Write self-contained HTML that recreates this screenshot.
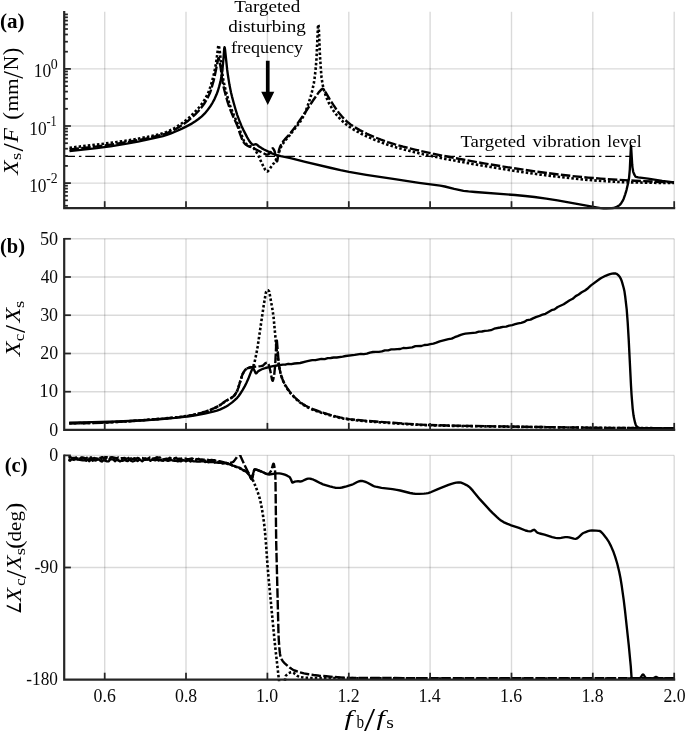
<!DOCTYPE html>
<html lang="en"><head><meta charset="utf-8"><title>Frequency response</title>
<style>html,body{margin:0;padding:0;background:#fff}svg{display:block}</style></head>
<body>
<svg width="685" height="731" viewBox="0 0 685 731">
<rect width="685" height="731" fill="#fff"/>
<g stroke="#262626" stroke-opacity="0.17" stroke-width="1.4" fill="none">
<path d="M104.7 11.8V208.2"/>
<path d="M186.0 11.8V208.2"/>
<path d="M267.4 11.8V208.2"/>
<path d="M348.8 11.8V208.2"/>
<path d="M430.1 11.8V208.2"/>
<path d="M511.5 11.8V208.2"/>
<path d="M592.8 11.8V208.2"/>
<path d="M674.2 11.8V208.2"/>
<path d="M64.0 68.9H674.2"/>
<path d="M64.0 126.0H674.2"/>
<path d="M64.0 183.1H674.2"/>
<path d="M104.7 238.8V429.9"/>
<path d="M186.0 238.8V429.9"/>
<path d="M267.4 238.8V429.9"/>
<path d="M348.8 238.8V429.9"/>
<path d="M430.1 238.8V429.9"/>
<path d="M511.5 238.8V429.9"/>
<path d="M592.8 238.8V429.9"/>
<path d="M674.2 238.8V429.9"/>
<path d="M64.0 238.8H674.2"/>
<path d="M64.0 277.0H674.2"/>
<path d="M64.0 315.2H674.2"/>
<path d="M64.0 353.5H674.2"/>
<path d="M64.0 391.7H674.2"/>
<path d="M104.7 455.4V679.7"/>
<path d="M186.0 455.4V679.7"/>
<path d="M267.4 455.4V679.7"/>
<path d="M348.8 455.4V679.7"/>
<path d="M430.1 455.4V679.7"/>
<path d="M511.5 455.4V679.7"/>
<path d="M592.8 455.4V679.7"/>
<path d="M674.2 455.4V679.7"/>
<path d="M64.0 455.4H674.2"/>
<path d="M64.0 567.5H674.2"/>
</g>
<g fill="none" stroke="#000" stroke-linejoin="round">
<clipPath id="clipa"><rect x="64.0" y="11.3" width="612.2" height="198.4"/></clipPath>
<clipPath id="clipb"><rect x="64.0" y="238.3" width="612.2" height="193.1"/></clipPath>
<clipPath id="clipc"><rect x="64.0" y="454.9" width="612.2" height="226.3"/></clipPath>
<path clip-path="url(#clipa)" stroke-width="2.35" d="M69.5 151.2L96.8 148.2L104.2 147.2L110.5 146.3L126.8 143.6L138.0 141.6L147.2 139.7L158.5 137.2L163.0 136.1L166.8 134.9L171.0 133.3L176.8 131.0L182.0 128.6L188.0 125.6L191.8 123.6L195.0 121.5L198.5 119.0L201.8 116.3L204.8 113.4L207.2 110.6L210.0 106.8L212.5 102.8L214.5 99.1L216.5 94.6L218.0 90.5L219.2 86.4L220.5 81.4L221.5 76.2L222.5 69.1L223.5 58.5L224.2 48.5L224.5 47.2L224.8 47.8L225.0 49.2L227.2 69.9L228.0 75.8L229.5 85.1L231.0 92.4L232.0 96.6L233.5 102.2L235.5 109.2L237.2 114.8L238.5 118.4L240.0 122.3L241.5 125.9L243.2 129.6L247.2 137.4L249.0 140.5L250.5 142.7L252.2 144.4L252.8 144.7L253.2 144.8L255.8 144.2L256.5 144.3L257.2 144.9L259.0 146.5L261.5 148.1L264.0 149.5L272.0 153.4L274.8 154.5L277.0 155.3L280.8 156.2L288.2 157.6L291.5 158.3L305.2 161.8L331.2 168.0L340.5 170.1L349.0 171.8L366.2 174.8L394.8 179.2L419.0 182.8L440.2 185.6L444.8 186.5L454.2 188.8L463.5 190.8L468.5 191.4L475.2 192.0L515.0 195.0L525.2 196.0L534.5 197.0L546.2 198.6L557.5 200.4L593.5 206.8L600.5 208.2L603.5 208.5L606.2 208.6L610.5 208.3L613.5 208.0L616.0 207.2L618.5 205.9L619.2 205.4L620.0 204.7L621.5 202.7L622.5 201.2L623.8 198.4L625.2 194.3L626.5 190.1L628.2 182.7L629.0 178.3L629.2 176.4L629.8 169.7L630.2 160.9L630.8 149.1L631.0 146.0L631.2 148.0L632.2 164.7L632.5 167.6L632.8 169.3L633.2 171.8L633.8 173.4L634.8 175.4L635.5 176.5L636.2 176.9L638.2 177.4L648.0 178.6L662.2 180.8L674.0 182.3"/>
<path clip-path="url(#clipa)" stroke-width="2.4" stroke-dasharray="9.5 2.3" d="M69.5 149.5L93.5 146.9L109.0 144.9L118.5 143.5L129.2 141.7L137.8 140.2L145.5 138.7L151.0 137.5L157.2 136.0L161.5 134.9L165.0 133.8L168.5 132.4L172.2 130.8L176.0 128.9L179.2 127.0L183.2 124.4L187.5 121.3L191.2 118.1L195.0 114.6L198.5 111.0L201.2 107.8L204.0 104.0L206.2 100.4L208.0 97.1L209.8 93.3L211.0 89.8L212.2 85.7L213.5 81.1L214.5 76.9L216.2 68.8L218.2 58.8L218.5 58.1L218.8 58.1L219.0 58.8L220.0 63.6L220.8 68.5L222.0 78.6L223.0 84.3L224.5 90.7L227.5 101.7L228.8 105.7L230.0 109.1L233.0 116.2L236.8 124.4L237.8 127.0L240.2 134.4L242.2 139.5L243.2 141.7L244.0 142.8L245.0 143.9L246.0 144.8L247.2 145.6L249.0 146.5L252.8 147.8L254.2 148.5L264.5 153.8L265.5 154.3L266.2 154.5L267.0 154.6L267.8 154.5L268.5 154.1L269.5 153.5L269.8 153.3L270.2 152.5L272.0 148.9L272.5 148.4L272.8 148.3L273.0 148.4L273.8 149.4L274.5 151.0L274.8 151.7L276.2 159.6L276.8 161.3L277.0 161.5L277.2 161.1L277.5 159.9L279.0 150.0L279.5 148.3L280.2 146.3L282.0 143.2L283.2 141.3L284.8 139.4L289.0 134.9L290.5 133.1L294.8 127.5L298.8 121.8L305.0 112.7L313.0 100.5L318.0 93.4L319.2 91.8L321.5 89.4L322.2 88.9L322.8 88.8L323.0 88.9L323.5 89.3L325.8 92.6L329.8 99.3L333.2 104.7L336.5 109.6L339.0 113.0L342.0 116.6L345.0 119.8L347.8 122.3L350.5 124.4L355.0 127.4L360.2 130.4L367.0 133.8L374.2 137.0L381.0 139.7L387.8 142.1L395.0 144.4L403.2 146.7L415.8 149.8L433.0 153.7L445.8 156.3L462.8 159.5L484.0 163.4L503.5 166.6L525.5 170.0L543.2 172.5L560.5 174.7L575.5 176.4L588.0 177.6L600.8 178.6L617.2 179.8L634.5 180.7L655.5 181.7L674.0 182.4"/>
<path clip-path="url(#clipa)" stroke-width="2.6" stroke-dasharray="2.5 2.1" d="M69.5 147.7L94.5 144.9L117.0 142.0L125.2 140.8L133.5 139.5L142.2 137.9L149.2 136.5L160.0 134.1L163.2 133.1L166.0 132.2L169.5 130.6L174.0 128.3L177.2 126.4L180.5 124.3L185.2 120.8L189.0 117.7L193.2 113.7L197.8 109.0L200.5 105.7L203.0 102.3L205.2 98.7L207.2 94.9L209.0 90.9L210.5 86.5L212.8 78.7L214.2 72.7L215.2 67.8L216.0 63.3L217.2 54.8L218.2 46.3L218.5 45.3L218.8 45.3L219.0 46.1L219.2 47.5L219.8 51.4L220.8 61.0L222.2 72.8L223.0 78.2L223.8 82.3L225.0 87.9L227.8 98.2L229.5 104.1L231.0 108.3L234.0 115.5L237.8 124.0L238.8 126.7L241.2 134.1L243.2 139.4L244.2 141.5L245.5 143.2L246.2 144.0L247.2 144.8L248.8 145.7L251.5 146.7L252.5 147.2L253.5 147.9L254.2 148.7L255.8 151.0L258.5 155.9L262.0 163.6L265.2 169.8L266.0 170.9L266.5 171.3L267.0 171.5L267.5 171.4L268.2 170.8L269.0 169.9L270.8 167.3L274.0 163.0L276.2 159.4L277.2 157.5L277.8 156.2L280.5 148.1L281.5 146.1L283.0 143.6L285.2 140.5L289.8 135.1L292.8 131.2L297.8 125.0L299.8 122.3L301.5 119.6L303.2 116.5L304.8 113.4L306.5 109.1L308.2 104.3L310.5 97.4L312.2 90.8L313.8 83.5L314.8 76.8L315.8 67.5L316.5 58.6L317.8 30.2L318.0 26.3L318.2 24.5L318.5 25.2L318.8 28.2L320.0 56.5L320.8 68.2L321.5 77.2L322.5 83.9L323.5 88.5L324.5 92.0L325.5 95.0L326.5 97.7L327.8 100.7L329.2 103.7L330.8 106.4L332.5 109.3L334.5 112.2L336.5 114.8L338.8 117.4L341.2 120.0L343.8 122.3L346.0 124.2L348.5 126.1L351.5 128.2L354.5 130.1L357.8 131.9L361.2 133.8L369.0 137.4L374.8 139.9L380.5 142.2L386.2 144.2L392.0 146.1L399.2 148.2L406.8 150.2L414.8 152.3L424.0 154.4L433.5 156.5L442.2 158.3L468.5 163.2L495.2 167.8L520.0 171.7L540.2 174.6L560.2 177.0L578.0 179.0L592.5 180.3L611.8 181.6L625.8 182.3L652.0 182.8L674.0 183.0"/>
<path stroke-width="1.3" stroke-dasharray="9.7 3.9 2.5 3.9" d="M65.3 156.4H630.8"/>
<path clip-path="url(#clipb)" stroke-width="2.35" d="M69.2 422.6L92.2 422.2L117.7 421.5L140.4 420.5L158.9 419.3L174.9 417.9L189.2 416.3L195.4 415.3L204.7 413.6L208.9 412.7L213.2 411.7L216.9 410.6L220.4 409.3L222.9 408.2L225.4 406.9L228.7 404.9L232.2 402.4L234.7 400.2L237.2 397.8L238.7 396.0L240.4 393.5L242.4 390.4L244.7 386.4L246.4 383.0L248.2 379.1L250.2 373.9L251.9 369.8L252.4 368.8L252.9 368.2L253.2 368.2L253.7 368.9L255.7 373.2L255.9 373.4L256.2 373.4L256.7 373.0L257.9 371.6L259.4 370.6L260.9 369.7L262.9 368.8L265.4 368.0L268.9 367.1L272.9 366.2L276.9 365.5L282.9 364.6L285.2 364.7L288.2 363.8L291.2 364.2L294.4 363.5L300.2 363.0L306.4 361.4L310.9 360.4L312.4 360.1L315.4 360.2L321.4 358.9L324.7 359.1L327.7 358.2L330.7 358.0L333.7 357.5L336.7 357.5L342.7 356.7L345.7 356.0L354.7 354.9L357.9 354.3L360.7 353.9L363.9 354.2L366.9 353.7L369.9 352.6L372.9 352.0L375.9 351.8L378.9 351.8L381.9 351.4L384.9 350.3L388.2 350.3L391.2 349.4L394.2 349.4L397.2 349.1L400.2 349.0L403.2 348.0L406.2 348.1L412.2 347.4L415.4 346.1L421.4 346.0L424.4 345.0L427.4 344.9L430.4 344.1L433.4 343.6L436.4 342.7L439.7 341.4L448.4 339.1L451.7 338.6L454.7 337.2L457.7 336.1L460.7 334.8L463.2 334.1L465.4 333.7L475.7 332.6L478.9 331.6L481.9 331.5L484.9 330.8L487.9 330.7L490.9 330.2L494.2 328.7L500.2 327.5L502.9 326.8L506.2 326.6L509.2 325.6L512.2 325.1L515.2 324.2L518.2 323.4L521.2 322.8L524.2 321.9L527.2 320.1L530.5 319.6L533.5 318.1L536.5 316.8L539.5 315.8L542.5 314.7L545.5 313.8L551.5 310.2L554.5 309.4L557.7 307.0L563.7 304.3L566.7 302.2L569.7 300.3L572.7 298.8L575.7 296.1L578.7 294.5L581.7 292.3L585.0 290.5L588.0 288.2L591.0 285.4L600.0 278.8L601.2 278.0L605.5 275.8L608.5 274.6L610.0 274.1L612.0 273.7L613.7 273.5L615.0 273.4L615.7 273.5L616.5 273.8L618.0 274.9L619.7 276.8L620.7 278.6L621.5 280.4L622.2 282.6L623.7 288.0L624.5 291.6L625.2 296.5L626.7 309.4L627.7 322.6L628.7 339.4L631.0 385.6L631.5 394.0L632.0 400.4L632.7 408.8L633.5 415.3L634.0 418.1L634.5 420.3L635.2 423.2L635.7 424.7L636.2 425.8L636.7 426.5L638.2 427.5L639.0 427.8L639.7 428.0L654.2 428.2L674.0 428.3"/>
<path clip-path="url(#clipb)" stroke-width="2.4" stroke-dasharray="9.5 2.3" d="M69.2 423.5L79.2 423.4L90.5 423.1L106.2 422.6L115.0 422.1L135.7 420.7L160.2 418.9L171.9 417.8L179.2 417.1L185.7 416.2L189.2 415.7L192.9 415.0L197.9 413.8L202.4 412.6L206.7 411.2L211.2 409.5L215.4 407.7L219.2 405.7L220.9 404.5L225.9 400.8L227.4 400.0L230.7 398.3L231.9 397.5L233.2 396.6L234.2 395.6L234.9 394.7L235.9 393.2L236.9 391.4L237.4 390.3L238.2 388.1L241.7 376.7L242.4 374.6L242.9 373.5L244.2 371.3L245.2 369.9L246.2 369.1L247.9 368.1L249.4 367.6L251.4 367.1L260.7 366.1L262.7 365.7L263.4 365.2L264.9 363.6L266.4 362.7L266.9 362.6L267.2 362.6L267.4 362.8L267.9 363.4L268.7 364.7L268.9 365.3L270.4 371.1L271.9 379.1L272.4 380.6L272.7 380.8L272.9 380.5L273.4 378.8L274.2 374.8L274.9 367.9L275.4 361.1L276.2 344.9L276.4 341.1L276.7 339.6L276.9 340.7L277.7 350.8L278.9 364.6L279.7 369.2L280.7 373.7L281.4 376.3L282.4 379.0L283.4 381.4L284.4 383.5L285.7 385.7L287.2 388.1L288.7 390.3L290.4 392.6L292.2 394.6L294.4 397.0L296.9 399.4L299.4 401.5L301.4 403.1L303.4 404.4L305.7 405.8L308.2 407.1L313.7 409.5L319.2 411.5L330.9 415.1L335.7 416.4L339.9 417.4L344.9 418.4L349.4 419.1L357.7 420.0L366.7 420.9L408.9 423.9L419.9 424.6L429.4 425.0L446.4 425.5L466.2 425.9L566.5 427.4L615.0 428.0L674.0 428.3"/>
<path clip-path="url(#clipb)" stroke-width="2.6" stroke-dasharray="2.5 2.1" d="M69.2 423.3L82.2 423.1L97.7 422.7L110.2 422.3L121.7 421.7L137.4 420.6L165.4 418.4L177.4 417.3L187.7 415.9L193.9 414.8L201.2 413.0L206.2 411.4L211.9 409.2L215.7 407.5L218.9 405.8L220.7 404.7L226.2 400.7L230.4 398.4L231.9 397.5L233.4 396.4L234.7 395.0L235.9 393.2L237.2 390.9L238.2 388.1L242.2 375.2L243.2 373.0L244.4 370.9L245.4 369.7L246.7 368.8L247.9 368.3L251.9 366.7L252.9 366.2L253.4 365.7L253.9 364.5L254.4 362.8L255.2 359.4L256.7 351.9L257.7 346.3L263.9 304.1L265.7 293.6L266.2 291.5L266.9 290.6L267.4 290.2L267.7 290.2L267.9 290.2L268.4 290.5L269.2 291.5L269.4 292.5L272.2 308.0L273.2 314.5L273.7 318.5L276.4 347.9L276.9 352.3L277.7 357.6L278.9 365.5L280.2 372.0L281.2 375.6L282.9 380.5L284.2 383.3L285.7 386.1L287.4 389.0L289.2 391.5L290.9 393.7L292.7 395.7L295.2 398.2L297.7 400.5L299.7 402.2L301.7 403.7L303.7 405.1L306.2 406.5L308.7 407.8L311.7 409.2L314.9 410.5L317.9 411.6L328.2 414.8L336.2 417.0L343.2 418.6L349.4 419.6L359.7 420.7L371.4 421.7L405.9 424.1L421.2 425.0L434.9 425.4L457.9 426.0L539.0 427.1L605.7 427.9L674.0 428.3"/>
<path clip-path="url(#clipc)" stroke-width="2.35" d="M68.5 460.0L70.0 460.7L70.2 460.6L71.8 459.0L73.2 459.7L75.0 459.3L76.5 459.2L78.2 459.5L79.8 459.9L81.2 460.0L83.0 460.4L84.5 460.1L86.0 460.7L86.2 460.7L87.8 459.6L89.2 461.2L89.5 461.1L91.0 459.2L92.5 460.7L92.8 460.7L94.2 460.2L95.8 460.5L97.5 459.5L99.0 459.7L100.8 461.2L102.2 461.5L103.8 460.0L104.0 460.0L105.5 460.9L107.0 461.3L108.5 461.3L108.8 461.2L110.2 459.4L111.8 459.3L113.5 459.6L115.0 461.2L115.2 461.1L116.5 459.7L116.8 459.5L118.2 460.2L119.8 461.4L120.0 461.4L121.5 460.5L123.0 460.8L124.8 460.0L126.2 460.8L127.8 461.1L128.0 461.1L129.5 459.3L131.2 461.0L132.8 461.5L134.2 461.0L136.0 459.9L137.5 461.0L137.8 460.9L139.0 459.7L139.2 459.5L140.8 460.3L142.2 461.2L142.5 461.2L144.0 459.9L145.5 459.9L148.8 459.4L150.2 460.7L150.5 460.7L152.0 459.8L153.5 459.9L155.2 460.4L156.8 459.6L157.0 459.6L158.5 460.6L160.0 459.8L161.8 460.7L163.2 460.9L164.8 459.8L165.0 459.8L168.0 460.9L169.8 460.4L171.2 459.8L173.0 460.7L174.5 460.9L176.0 460.7L177.8 461.4L179.2 460.9L181.0 461.3L182.5 460.2L182.8 460.2L184.2 460.3L185.8 461.3L187.2 460.7L189.0 460.4L190.5 461.5L192.2 460.8L193.8 461.3L195.5 461.4L197.0 461.6L198.5 461.4L200.2 461.6L201.8 461.2L203.2 461.2L203.5 461.3L205.0 462.0L206.5 461.6L206.8 461.6L208.2 462.3L209.8 462.1L211.5 462.1L213.0 461.8L214.8 462.7L216.2 462.4L218.0 462.7L221.0 462.7L222.8 463.6L226.0 463.2L227.5 464.0L229.2 464.2L230.8 464.8L232.2 465.6L234.0 465.8L235.5 466.8L237.0 467.2L238.8 467.4L240.2 468.7L242.0 469.4L243.5 470.5L245.2 471.0L246.8 472.2L250.0 476.1L251.2 478.8L251.5 479.1L251.8 479.2L252.0 478.8L253.0 474.0L254.0 470.6L254.5 469.5L254.8 469.4L255.2 469.4L256.5 469.7L257.8 470.1L262.2 471.9L266.2 473.8L268.2 474.4L269.2 474.5L270.5 474.4L275.2 473.5L277.2 473.3L279.2 473.4L281.0 473.7L283.0 474.1L284.8 474.7L287.2 475.7L289.5 477.0L290.0 477.6L291.0 479.5L292.0 482.0L292.2 482.4L292.5 482.6L293.2 482.4L294.8 481.7L296.5 481.3L298.0 481.2L300.0 481.5L301.2 481.3L302.8 480.8L305.8 479.4L307.0 478.9L308.2 478.6L309.8 478.7L311.5 479.0L313.5 479.7L315.5 480.6L320.5 483.2L323.0 484.3L329.8 486.4L332.8 487.2L335.8 487.8L338.5 487.9L340.2 487.8L342.0 487.5L346.5 486.4L352.0 484.7L353.5 484.0L357.2 482.0L358.8 481.4L360.5 481.0L362.0 480.9L363.8 481.3L365.5 481.9L367.5 482.8L372.8 485.6L374.2 486.3L375.8 486.7L381.5 487.8L392.5 489.1L396.8 489.8L400.2 490.5L410.0 493.0L413.0 493.5L415.5 493.8L419.0 493.8L424.0 493.6L426.2 493.4L428.0 493.1L429.5 492.7L431.2 492.0L438.5 488.8L442.2 487.4L448.5 484.9L451.5 483.8L454.0 483.1L456.2 482.6L458.2 482.4L460.0 482.5L461.2 482.7L462.8 483.3L466.5 485.1L468.0 486.0L469.8 487.4L471.2 488.9L473.0 490.9L480.0 499.4L489.8 510.1L492.5 512.8L497.0 517.1L499.2 519.1L501.0 520.5L503.5 522.1L507.5 523.9L511.2 525.3L519.0 527.9L525.5 530.5L528.0 531.2L530.2 531.4L531.2 531.1L533.2 530.0L534.2 529.8L534.5 529.9L535.0 530.3L536.8 532.3L538.0 532.9L539.8 533.5L544.5 534.7L552.2 537.1L555.5 537.8L557.5 538.1L559.5 538.1L561.0 537.9L565.2 537.2L567.2 537.1L569.2 537.4L573.8 538.6L575.5 538.8L576.5 538.6L577.8 537.9L579.0 536.8L581.8 534.2L583.0 533.2L585.0 532.3L588.0 531.2L590.0 530.6L592.0 530.4L596.2 530.6L598.8 530.8L599.5 530.9L600.8 531.6L602.0 532.8L603.5 534.5L606.2 537.9L608.5 541.3L611.0 546.1L613.2 551.2L615.2 556.8L617.2 563.5L619.2 571.7L620.5 578.3L621.8 586.3L623.8 600.6L625.0 610.6L628.8 645.6L630.8 666.6L631.5 676.8L631.8 677.9L632.5 678.4L633.0 678.5L636.5 678.4L640.0 678.0L640.2 677.9L640.8 677.4L642.2 675.0L642.8 674.6L643.0 674.5L643.2 674.6L643.8 675.0L645.2 677.4L645.8 677.9L646.0 678.0L649.2 678.2L653.0 678.3L653.8 678.1L655.2 677.2L656.0 677.0L656.8 677.2L658.2 678.1L659.0 678.3L674.0 678.3"/>
<path clip-path="url(#clipc)" stroke-width="2.4" stroke-dasharray="9.5 2.3" d="M68.5 457.8L70.0 456.8L70.2 456.8L71.8 458.2L73.2 457.9L75.0 457.8L78.0 457.3L78.2 457.3L79.8 458.4L81.5 457.5L83.0 457.5L84.5 458.4L84.8 458.4L86.2 458.2L87.8 457.2L89.2 458.1L89.5 458.1L91.0 457.3L92.5 458.8L92.8 459.0L94.0 459.1L94.2 459.1L95.8 458.2L97.2 459.0L97.5 459.0L99.0 457.1L100.5 458.1L100.8 458.1L102.2 457.1L103.8 458.0L104.0 457.9L105.5 457.1L107.0 457.2L108.5 458.3L108.8 458.4L110.2 457.5L112.0 457.2L116.5 458.1L116.8 458.1L118.2 457.5L119.8 458.5L120.0 458.5L121.5 458.2L123.0 458.2L124.8 457.9L126.2 458.9L128.0 458.4L129.5 457.4L131.2 458.7L132.8 459.3L134.2 458.3L134.5 458.3L136.0 459.1L137.5 457.9L139.2 458.3L140.8 458.0L142.2 458.0L144.0 458.9L145.5 458.3L145.8 458.4L147.2 459.3L150.2 457.3L150.5 457.3L152.0 457.9L153.5 459.0L153.8 459.0L155.2 458.0L156.8 457.2L158.5 457.7L160.0 457.4L161.5 459.2L161.8 459.4L163.2 459.3L166.5 458.6L168.0 458.9L169.8 457.8L171.2 458.1L173.0 458.5L174.5 458.3L176.0 457.8L176.2 457.9L177.8 459.4L179.2 458.6L179.5 458.6L181.0 458.7L182.5 458.4L184.2 458.4L185.8 458.6L187.2 459.3L187.5 459.3L189.0 459.2L192.0 458.4L192.2 458.4L193.8 459.5L195.2 458.9L195.5 458.9L197.0 459.3L198.5 458.8L200.2 459.6L201.8 459.4L203.5 459.6L206.5 459.7L208.2 460.0L209.8 460.5L211.5 459.9L213.0 460.2L214.5 460.2L214.8 460.2L216.2 461.0L217.8 461.1L219.5 461.1L224.2 462.5L225.8 462.7L227.0 463.2L227.8 463.3L230.0 463.0L231.8 462.5L233.2 461.9L234.0 461.1L236.8 457.3L237.5 455.9L237.8 455.3L238.0 454.1L238.8 449.5L239.0 449.0L239.2 449.5L239.5 450.7L240.2 455.2L241.0 457.3L244.8 465.5L248.5 473.0L250.5 477.7L251.2 478.8L251.8 479.0L252.0 478.7L252.5 477.3L253.8 471.7L254.2 470.0L254.5 469.5L254.8 469.4L255.2 469.4L257.0 469.8L262.0 471.8L266.0 473.6L267.2 473.9L268.2 474.0L268.8 473.7L269.5 473.1L271.0 471.0L271.5 469.8L273.0 464.5L273.2 464.0L273.5 463.7L273.8 463.9L274.0 464.7L275.0 470.2L275.2 472.4L275.5 481.1L276.2 542.7L276.8 565.8L278.5 633.7L278.8 640.2L279.5 649.6L280.0 653.9L280.5 656.5L281.5 659.1L282.8 661.2L284.2 662.8L287.8 666.0L290.0 667.8L291.5 668.8L293.0 669.7L294.5 670.5L296.0 671.0L300.0 672.3L304.0 673.4L308.5 674.2L313.5 675.0L319.5 675.7L326.2 676.3L343.2 677.7L348.8 678.0L485.8 678.2L674.0 678.3"/>
<path clip-path="url(#clipc)" stroke-width="2.6" stroke-dasharray="2.5 2.1" d="M68.5 459.2L70.0 459.7L70.2 459.6L71.8 458.6L73.2 459.1L75.0 460.2L76.5 460.3L78.0 458.3L78.2 458.2L79.8 458.4L81.2 458.0L83.0 459.0L84.5 458.0L86.2 459.1L87.8 459.6L89.2 458.7L89.5 458.7L91.0 459.7L92.5 459.5L94.2 458.1L95.8 459.4L97.5 458.7L99.0 459.1L100.5 458.7L100.8 458.8L102.2 459.8L105.5 458.4L107.0 459.4L108.5 460.0L108.8 460.0L110.2 458.8L112.0 458.6L113.5 459.0L115.0 460.4L116.5 460.5L116.8 460.5L118.2 459.8L120.0 460.3L121.5 460.2L123.0 459.1L124.8 458.3L126.2 459.6L126.5 459.7L128.0 459.4L129.5 459.0L131.0 458.6L132.8 459.1L134.2 459.2L136.0 458.7L137.5 458.8L139.0 459.2L140.8 460.2L144.0 458.8L145.5 458.8L147.2 459.2L148.8 458.6L150.2 458.6L152.0 459.3L153.5 458.5L153.8 458.5L155.2 459.3L156.8 459.1L158.5 459.8L160.0 459.9L163.2 459.8L164.8 459.3L165.0 459.3L166.5 459.8L168.0 459.2L169.8 459.7L171.2 459.3L172.8 459.5L173.0 459.5L174.5 458.9L176.0 459.2L177.8 460.5L179.2 459.3L179.5 459.4L181.0 460.1L182.5 460.1L184.0 460.2L185.8 459.9L187.2 460.1L189.0 459.3L190.5 459.4L192.2 459.7L195.2 459.7L197.0 459.8L198.5 460.4L200.2 460.1L201.8 461.0L203.5 460.8L205.0 460.7L206.8 461.0L208.2 460.7L209.8 461.5L210.0 461.5L214.8 461.6L216.2 462.1L219.5 462.3L221.0 462.7L224.2 462.7L226.0 463.2L227.5 463.2L229.0 463.6L230.8 464.6L234.0 466.0L235.5 466.5L238.8 467.3L242.0 469.4L245.0 470.9L246.0 471.5L248.0 473.0L249.5 474.4L250.5 475.6L251.2 476.8L252.2 478.6L253.2 480.7L256.2 487.9L258.2 493.6L259.8 498.7L261.0 503.9L262.2 510.5L263.2 516.8L264.2 524.4L265.0 531.9L266.0 543.8L267.5 565.1L268.5 577.2L274.5 640.2L275.8 652.1L279.5 684.9L280.0 688.5L280.2 689.6L280.5 690.0L283.5 690.0L283.8 689.6L284.2 686.7L285.2 678.2L285.5 676.7L285.8 675.9L287.0 674.5L288.5 673.3L290.0 672.6L291.5 672.3L292.5 672.4L293.8 673.0L297.5 675.9L298.5 676.5L299.2 676.9L301.2 677.2L304.5 677.7L309.5 678.0L383.5 678.3L466.0 678.5L674.0 678.6"/>
</g>
<g stroke="#262626" stroke-width="1.75" fill="none" stroke-linecap="butt">
<path stroke-width="2.2" d="M64.2 10.9V208.2H675.2"/>
<path d="M104.7 208.2v-7"/>
<path d="M186.0 208.2v-7"/>
<path d="M267.4 208.2v-7"/>
<path d="M348.8 208.2v-7"/>
<path d="M430.1 208.2v-7"/>
<path d="M511.5 208.2v-7"/>
<path d="M592.8 208.2v-7"/>
<path d="M674.2 208.2v-7"/>
<path stroke-width="2.2" d="M64.2 237.9V429.9H675.2"/>
<path d="M104.7 429.9v-7"/>
<path d="M186.0 429.9v-7"/>
<path d="M267.4 429.9v-7"/>
<path d="M348.8 429.9v-7"/>
<path d="M430.1 429.9v-7"/>
<path d="M511.5 429.9v-7"/>
<path d="M592.8 429.9v-7"/>
<path d="M674.2 429.9v-7"/>
<path stroke-width="2.2" d="M64.2 454.5V679.7H675.2"/>
<path d="M104.7 679.7v-7"/>
<path d="M186.0 679.7v-7"/>
<path d="M267.4 679.7v-7"/>
<path d="M348.8 679.7v-7"/>
<path d="M430.1 679.7v-7"/>
<path d="M511.5 679.7v-7"/>
<path d="M592.8 679.7v-7"/>
<path d="M674.2 679.7v-7"/>
<path d="M64.2 205.8h3.7"/>
<path d="M64.2 200.3h3.7"/>
<path d="M64.2 195.8h3.7"/>
<path d="M64.2 191.9h3.7"/>
<path d="M64.2 188.6h3.7"/>
<path d="M64.2 185.7h3.7"/>
<path d="M64.2 183.1h6.7"/>
<path d="M64.2 165.9h3.7"/>
<path d="M64.2 155.9h3.7"/>
<path d="M64.2 148.7h3.7"/>
<path d="M64.2 143.2h3.7"/>
<path d="M64.2 138.7h3.7"/>
<path d="M64.2 134.8h3.7"/>
<path d="M64.2 131.5h3.7"/>
<path d="M64.2 128.6h3.7"/>
<path d="M64.2 126.0h6.7"/>
<path d="M64.2 108.8h3.7"/>
<path d="M64.2 98.8h3.7"/>
<path d="M64.2 91.6h3.7"/>
<path d="M64.2 86.1h3.7"/>
<path d="M64.2 81.6h3.7"/>
<path d="M64.2 77.7h3.7"/>
<path d="M64.2 74.4h3.7"/>
<path d="M64.2 71.5h3.7"/>
<path d="M64.2 68.9h6.7"/>
<path d="M64.2 51.7h3.7"/>
<path d="M64.2 41.7h3.7"/>
<path d="M64.2 34.5h3.7"/>
<path d="M64.2 29.0h3.7"/>
<path d="M64.2 24.5h3.7"/>
<path d="M64.2 20.6h3.7"/>
<path d="M64.2 17.3h3.7"/>
<path d="M64.2 14.4h3.7"/>
<path d="M64.2 238.8h6.7"/>
<path d="M64.2 277.0h6.7"/>
<path d="M64.2 315.2h6.7"/>
<path d="M64.2 353.5h6.7"/>
<path d="M64.2 391.7h6.7"/>
<path d="M64.2 455.4h6.7"/>
<path d="M64.2 567.5h6.7"/>
</g>
<g font-family="'Liberation Serif', serif" fill="#0a0a0a">
<text x="93.60" y="701.80" font-size="18.6" textLength="22.20" lengthAdjust="spacingAndGlyphs">0.6</text>
<text x="175.04" y="701.80" font-size="18.6" textLength="22.20" lengthAdjust="spacingAndGlyphs">0.8</text>
<text x="255.96" y="701.80" font-size="18.6" textLength="22.20" lengthAdjust="spacingAndGlyphs">1.0</text>
<text x="337.47" y="701.80" font-size="18.6" textLength="22.20" lengthAdjust="spacingAndGlyphs">1.2</text>
<text x="418.48" y="701.80" font-size="18.6" textLength="22.20" lengthAdjust="spacingAndGlyphs">1.4</text>
<text x="499.96" y="701.80" font-size="18.6" textLength="22.20" lengthAdjust="spacingAndGlyphs">1.6</text>
<text x="581.40" y="701.80" font-size="18.6" textLength="22.20" lengthAdjust="spacingAndGlyphs">1.8</text>
<text x="663.47" y="701.80" font-size="18.6" textLength="22.20" lengthAdjust="spacingAndGlyphs">2.0</text>
<text x="50.77" y="69.10" font-size="14" textLength="6.96" lengthAdjust="spacingAndGlyphs">0</text>
<text x="33.77" y="77.40" font-size="17.9" textLength="17.39" lengthAdjust="spacingAndGlyphs">10</text>
<text x="46.44" y="126.20" font-size="14" textLength="10.30" lengthAdjust="spacingAndGlyphs">-1</text>
<text x="29.37" y="134.50" font-size="17.9" textLength="17.39" lengthAdjust="spacingAndGlyphs">10</text>
<text x="46.19" y="183.30" font-size="14" textLength="11.47" lengthAdjust="spacingAndGlyphs">-2</text>
<text x="29.17" y="191.60" font-size="17.9" textLength="17.39" lengthAdjust="spacingAndGlyphs">10</text>
<text x="39.95" y="244.55" font-size="17.9" textLength="18.15" lengthAdjust="spacingAndGlyphs">50</text>
<text x="40.66" y="282.75" font-size="17.9" textLength="17.40" lengthAdjust="spacingAndGlyphs">40</text>
<text x="40.14" y="321.00" font-size="17.9">30</text>
<text x="40.21" y="359.25" font-size="17.9">20</text>
<text x="39.35" y="397.45" font-size="17.9" textLength="18.76" lengthAdjust="spacingAndGlyphs">10</text>
<text x="49.13" y="435.70" font-size="17.9">0</text>
<text x="49.33" y="461.15" font-size="17.9">0</text>
<text x="34.45" y="573.25" font-size="17.9" textLength="23.53" lengthAdjust="spacingAndGlyphs">-90</text>
<text x="26.36" y="685.45" font-size="17.9" textLength="31.60" lengthAdjust="spacingAndGlyphs">-180</text>
</g>
<g font-family="'Liberation Serif', serif" fill="#000">
<text x="-0.03" y="27.90" font-size="20" font-weight="bold" textLength="24.55" lengthAdjust="spacingAndGlyphs">(a)</text>
<text x="0.00" y="253.30" font-size="20" font-weight="bold" textLength="25.00" lengthAdjust="spacingAndGlyphs">(b)</text>
<text x="4.70" y="472.10" font-size="20" font-weight="bold" textLength="22.81" lengthAdjust="spacingAndGlyphs">(c)</text>
<text x="234.26" y="12.00" font-size="17" textLength="65.96" lengthAdjust="spacingAndGlyphs">Targeted</text>
<text x="228.31" y="32.40" font-size="17" textLength="77.45" lengthAdjust="spacingAndGlyphs">disturbing</text>
<text x="231.10" y="53.30" font-size="17" textLength="71.92" lengthAdjust="spacingAndGlyphs">frequency</text>
<text x="460.47" y="146.90" font-size="17" textLength="65.05" lengthAdjust="spacingAndGlyphs">Targeted</text>
<text x="532.60" y="146.90" font-size="17" textLength="68.09" lengthAdjust="spacingAndGlyphs">vibration</text>
<text x="607.35" y="146.90" font-size="17" textLength="34.20" lengthAdjust="spacingAndGlyphs">level</text>
<path d="M265.9 60.7h3.7v31.1h4.7l-6.55 13.2l-6.55 -13.2h4.7z" fill="#000"/>
<text x="344.47" y="724.90" font-size="22" font-style="italic" textLength="8.22" lengthAdjust="spacingAndGlyphs">f</text>
<text x="356.40" y="728.20" font-size="18" textLength="7.58" lengthAdjust="spacingAndGlyphs">b</text>
<text x="363.90" y="730.60" font-size="33" textLength="11.20" lengthAdjust="spacingAndGlyphs">/</text>
<text x="376.57" y="724.90" font-size="22" font-style="italic" textLength="8.22" lengthAdjust="spacingAndGlyphs">f</text>
<text x="386.30" y="728.30" font-size="17" textLength="7.61" lengthAdjust="spacingAndGlyphs">s</text>
<g transform="translate(18.0 175.4) rotate(-90)">
<text x="0.78" y="0.00" font-size="20.6" font-style="italic" textLength="14.27" lengthAdjust="spacingAndGlyphs">X</text>
<text x="15.44" y="3.30" font-size="14.5" textLength="7.23" lengthAdjust="spacingAndGlyphs">s</text>
<text x="24.00" y="4.60" font-size="29" textLength="8.20" lengthAdjust="spacingAndGlyphs">/</text>
<text x="32.93" y="0.00" font-size="20.6" font-style="italic" textLength="14.38" lengthAdjust="spacingAndGlyphs">F</text>
<text x="55.77" y="0.90" font-size="23.4">(</text>
<text x="63.95" y="0.00" font-size="18.6" textLength="32.98" lengthAdjust="spacingAndGlyphs">mm</text>
<text x="96.70" y="4.60" font-size="29" textLength="7.70" lengthAdjust="spacingAndGlyphs">/</text>
<text x="105.12" y="0.00" font-size="20.6" textLength="14.43" lengthAdjust="spacingAndGlyphs">N</text>
<text x="120.27" y="0.90" font-size="23.4" textLength="7.52" lengthAdjust="spacingAndGlyphs">)</text>
</g>
<g transform="translate(20.3 357.1) rotate(-90)">
<text x="0.81" y="0.00" font-size="20.6" font-style="italic" textLength="14.81" lengthAdjust="spacingAndGlyphs">X</text>
<text x="15.85" y="3.20" font-size="14.5" textLength="7.57" lengthAdjust="spacingAndGlyphs">c</text>
<text x="24.10" y="4.60" font-size="29" textLength="8.00" lengthAdjust="spacingAndGlyphs">/</text>
<text x="34.71" y="0.00" font-size="20.6" font-style="italic" textLength="14.81" lengthAdjust="spacingAndGlyphs">X</text>
<text x="49.04" y="3.20" font-size="14.5" textLength="7.23" lengthAdjust="spacingAndGlyphs">s</text>
</g>
<g transform="translate(21.4 612.9) rotate(-90)">
<text x="-1.16" y="0.00" font-size="19.6" font-family="'DejaVu Sans', sans-serif" textLength="12.27" lengthAdjust="spacingAndGlyphs">∠</text>
<text x="11.26" y="0.00" font-size="20.6" font-style="italic" textLength="13.91" lengthAdjust="spacingAndGlyphs">X</text>
<text x="26.84" y="3.30" font-size="14.5" textLength="7.69" lengthAdjust="spacingAndGlyphs">c</text>
<text x="34.40" y="4.60" font-size="29" textLength="8.60" lengthAdjust="spacingAndGlyphs">/</text>
<text x="43.76" y="0.00" font-size="20.6" font-style="italic" textLength="13.91" lengthAdjust="spacingAndGlyphs">X</text>
<text x="57.64" y="3.30" font-size="14.5" textLength="7.23" lengthAdjust="spacingAndGlyphs">s</text>
<text x="63.95" y="0.90" font-size="23.4" textLength="8.69" lengthAdjust="spacingAndGlyphs">(</text>
<text x="71.44" y="0.00" font-size="19.5" textLength="30.36" lengthAdjust="spacingAndGlyphs">deg</text>
<text x="101.56" y="0.90" font-size="23.4" textLength="8.69" lengthAdjust="spacingAndGlyphs">)</text>
</g>
</g>
</svg>
</body></html>
